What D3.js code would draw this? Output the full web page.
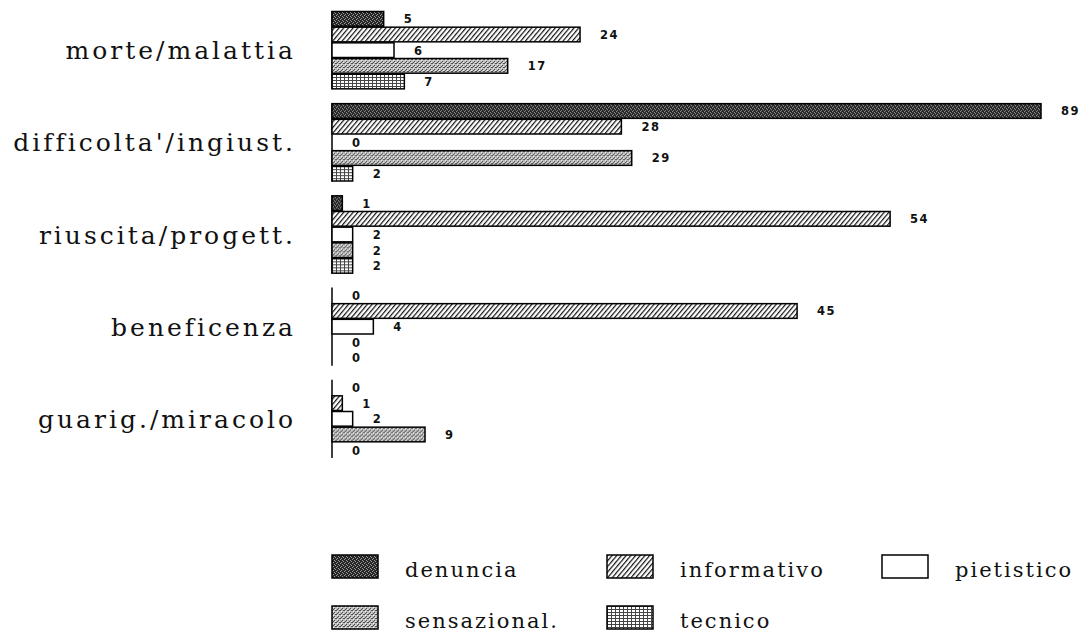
<!DOCTYPE html>
<html><head><meta charset="utf-8">
<script src="https://cdn.jsdelivr.net/npm/d3@7"></script>
<style>body{margin:0;background:#fff}</style>
</head><body><svg id="c" width="1081" height="637"></svg>
<script>
// ---- data ----
const categories = ["morte/malattia", "difficolta'/ingiust.", "riuscita/progett.", "beneficenza", "guarig./miracolo"];
const seriesNames = ["denuncia", "informativo", "pietistico", "sensazional.", "tecnico"];
const denuncia     = [5, 89, 1, 0, 0];
const informativo  = [24, 28, 54, 45, 1];
const pietistico   = [6, 0, 2, 4, 2];
const sensazional  = [17, 29, 2, 0, 9];
const tecnico      = [7, 2, 2, 0, 0];
const seriesValues = [denuncia, informativo, pietistico, sensazional, tecnico];

// ---- layout ----
const svg = d3.select("#c");
const x0 = 332, plotRight = 1041;
const x = d3.scaleLinear().domain([0, 68.6]).range([x0, plotRight]).clamp(true);
const y = d3.scaleBand().domain(categories).range([11, 458]).paddingInner(0.15);
const ys = d3.scaleBand().domain(seriesNames).range([0, y.bandwidth()]);

// ---- patterns ----
const defs = svg.append("defs");
function pat(id, w, h, build, tr) {
  const p = defs.append("pattern").attr("id", id).attr("patternUnits", "userSpaceOnUse")
    .attr("width", w).attr("height", h);
  if (tr) p.attr("patternTransform", tr);
  build(p);
}
pat("p-denuncia", 4, 4, p => {
  p.append("rect").attr("width", 4).attr("height", 4).attr("fill", "#262626");
  [[0,0],[2,1],[1,3],[3,2]].forEach(([a,b]) => p.append("rect").attr("x", a).attr("y", b).attr("width", 1).attr("height", 1).attr("fill", "#9a9a9a"));
});
pat("p-informativo", 3.6, 4, p => {
  p.append("rect").attr("width", 3.6).attr("height", 4).attr("fill", "#fff");
  p.append("rect").attr("x", 0).attr("y", 0).attr("width", 1.2).attr("height", 4).attr("fill", "#111");
}, "rotate(40)");
pat("p-pietistico", 4, 4, p => {
  p.append("rect").attr("width", 4).attr("height", 4).attr("fill", "#fff");
});
pat("p-sensazional", 4, 4, p => {
  p.append("rect").attr("width", 4).attr("height", 4).attr("fill", "#bdbdbd");
  [[0,0],[2,2],[3,0],[1,3]].forEach(([a,b]) => p.append("rect").attr("x", a).attr("y", b).attr("width", 1).attr("height", 1).attr("fill", "#4a4a4a"));
  [[1,1],[3,3]].forEach(([a,b]) => p.append("rect").attr("x", a).attr("y", b).attr("width", 1).attr("height", 1).attr("fill", "#f2f2f2"));
});
pat("p-tecnico", 4, 3, p => {
  p.append("rect").attr("width", 4).attr("height", 3).attr("fill", "#fff");
  p.append("rect").attr("width", 4).attr("height", 1).attr("fill", "#444");
  p.append("rect").attr("width", 1).attr("height", 3).attr("fill", "#444");
});
const fillIds = ["p-denuncia", "p-informativo", "p-pietistico", "p-sensazional", "p-tecnico"];

// ---- category labels ----
svg.append("g").selectAll("text").data(categories).join("text")
  .attr("x", 296).attr("y", d => y(d) + y.bandwidth() / 2 + 9)
  .attr("text-anchor", "end")
  .attr("font-family", "DejaVu Serif").attr("font-size", 25).attr("letter-spacing", 3)
  .attr("fill", "#111").text(d => d);

// ---- bars ----
const groups = svg.append("g").selectAll("g").data(categories).join("g")
  .attr("transform", d => `translate(0,${y(d)})`);

groups.append("line").attr("x1", x0).attr("x2", x0).attr("y1", 0).attr("y2", y.bandwidth())
  .attr("stroke", "#000").attr("stroke-width", 1.5);

groups.each(function(cat, ci) {
  const g = d3.select(this);
  const rows = seriesNames.map((s, si) => ({ s, si, v: seriesValues[si][ci] }));
  g.selectAll("rect.bar").data(rows.filter(r => r.v > 0)).join("rect").attr("class", "bar")
    .attr("x", x(0)).attr("y", r => ys(r.s) + 0.5)
    .attr("width", r => x(r.v) - x(0)).attr("height", ys.bandwidth() - 1)
    .attr("fill", r => `url(#${fillIds[r.si]})`)
    .attr("stroke", "#000").attr("stroke-width", 1.5);
  g.selectAll("text.val").data(rows).join("text").attr("class", "val")
    .attr("x", r => x(r.v) + 20).attr("y", r => ys(r.s) + ys.bandwidth() / 2 + 4.5)
    .attr("font-family", "DejaVu Sans").attr("font-weight", "bold").attr("font-size", 11.5)
    .attr("letter-spacing", 1.5).attr("fill", "#111").text(r => r.v);
});

// ---- legend ----
const leg = svg.append("g").selectAll("g").data(seriesNames).join("g")
  .attr("transform", (d, i) => `translate(${332 + (i % 3) * 275},${555 + Math.floor(i / 3) * 51})`);
leg.append("rect").attr("width", 46).attr("height", 23)
  .attr("fill", (d, i) => `url(#${fillIds[i]})`).attr("stroke", "#000").attr("stroke-width", 1.5);
leg.append("text").attr("x", 73).attr("y", 22)
  .attr("font-family", "DejaVu Serif").attr("font-size", 21).attr("letter-spacing", 2)
  .attr("fill", "#111").text(d => d);
</script>
</body></html>
